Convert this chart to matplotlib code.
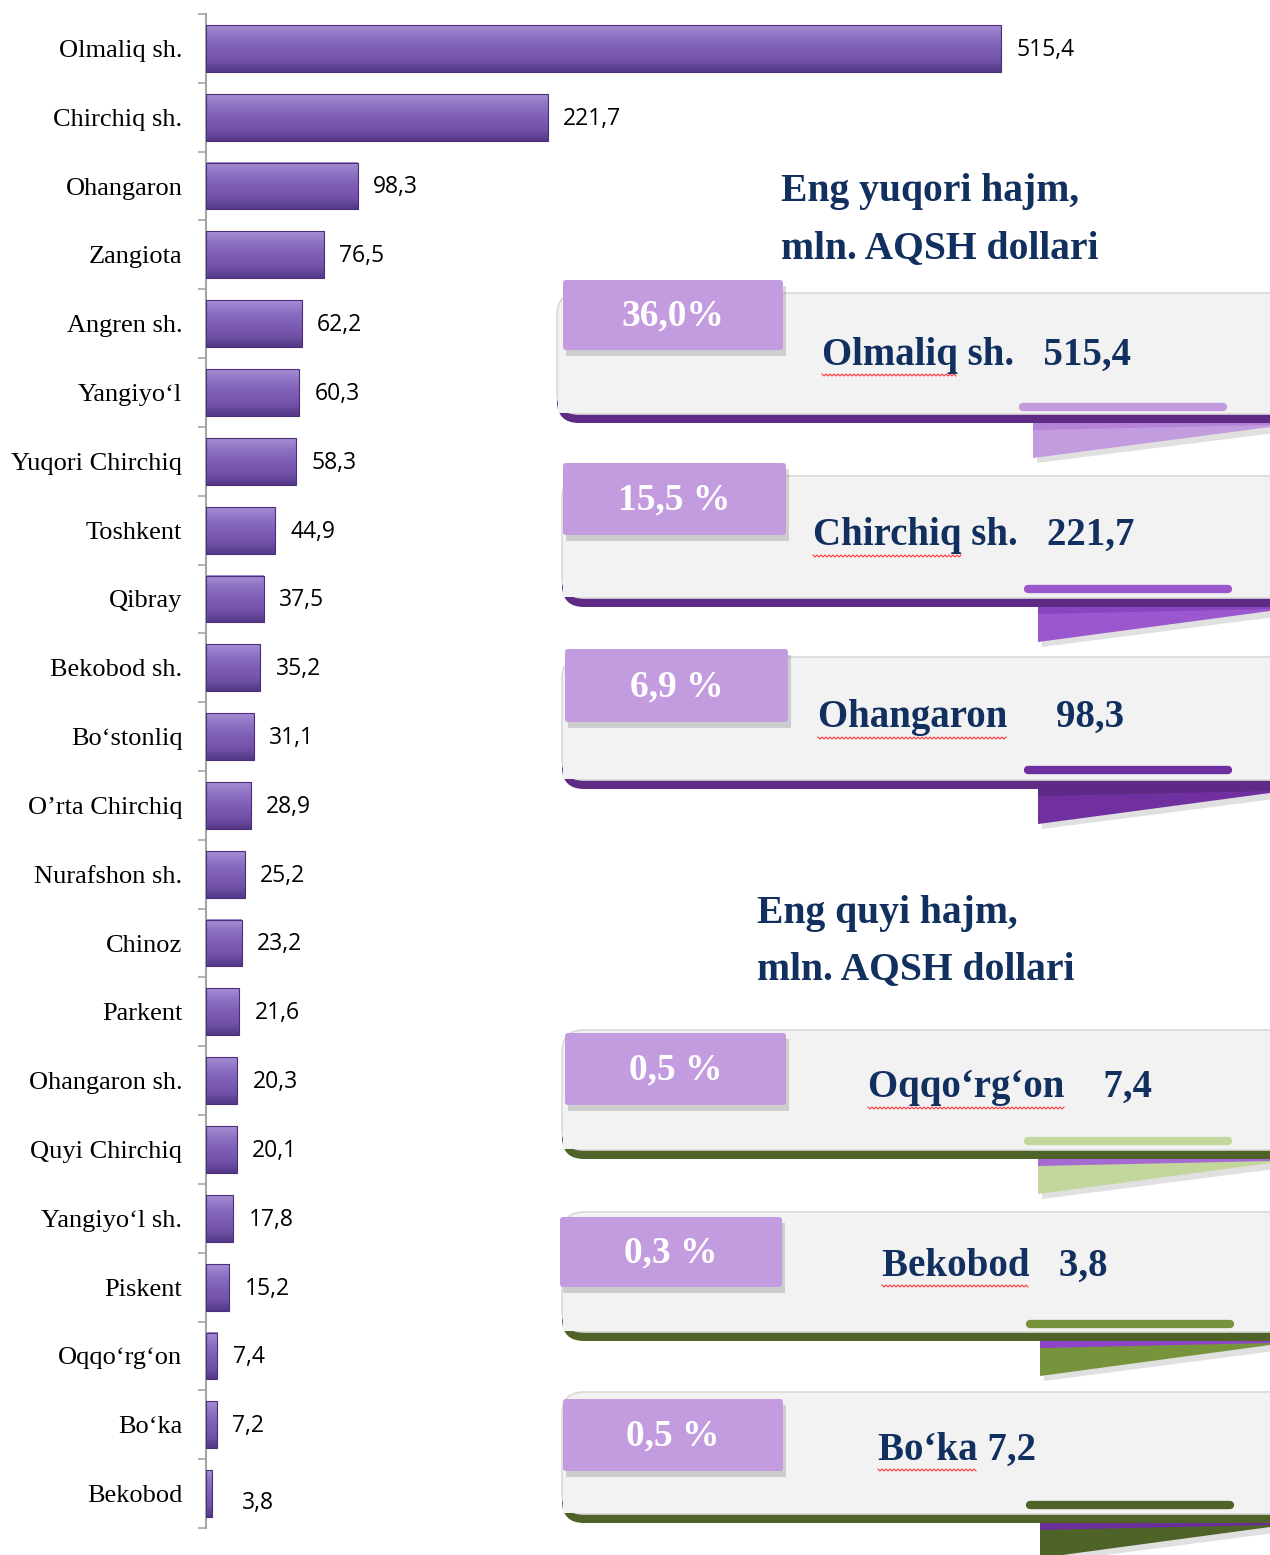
import matplotlib
matplotlib.use("Agg")
import matplotlib.pyplot as plt
import numpy as np
from matplotlib.patches import FancyBboxPatch, Rectangle, Polygon
from matplotlib.colors import LinearSegmentedColormap

# data
districts = ["Olmaliq sh.", "Chirchiq sh.", "Ohangaron", "Zangiota", "Angren sh.",
             "Yangiyo‘l", "Yuqori Chirchiq", "Toshkent", "Qibray", "Bekobod sh.",
             "Bo‘stonliq", "O’rta Chirchiq", "Nurafshon sh.", "Chinoz", "Parkent",
             "Ohangaron sh.", "Quyi Chirchiq", "Yangiyo‘l sh.", "Piskent",
             "Oqqo‘rg‘on", "Bo‘ka", "Bekobod"]
volumes = [515.4, 221.7, 98.3, 76.5, 62.2, 60.3, 58.3, 44.9, 37.5, 35.2, 31.1,
           28.9, 25.2, 23.2, 21.6, 20.3, 20.1, 17.8, 15.2, 7.4, 7.2, 3.8]

top_title = ["Eng yuqori hajm,", "mln. AQSH dollari"]
top_names = ["Olmaliq sh.", "Chirchiq sh.", "Ohangaron"]
top_vals = [515.4, 221.7, 98.3]
top_pct = ["36,0%", "15,5 %", "6,9 %"]

low_title = ["Eng quyi hajm,", "mln. AQSH dollari"]
low_names = ["Oqqo‘rg‘on", "Bekobod", "Bo‘ka"]
low_vals = [7.4, 3.8, 7.2]
low_pct = ["0,5 %", "0,3 %", "0,5 %"]


def fmt(v):
    return f"{v:.1f}".replace(".", ",")


W, H = 1270, 1555
fig = plt.figure(figsize=(W / 100, H / 100), dpi=100)
fig.patch.set_facecolor("white")

# ---- bar chart ----
ax = fig.add_axes([206 / W, (H - 1528) / H, 925 / W, 1514 / H])
n = len(districts)
ypos = np.arange(n)[::-1]
bar_h = 0.68
cmap = LinearSegmentedColormap.from_list("bar", ["#553888", "#7253a9", "#7d5eb5", "#8d70c2", "#a78dd6"])
grad = np.linspace(0, 1, 64).reshape(-1, 1)
for y, v in zip(ypos, volumes):
    ax.imshow(grad, cmap=cmap, origin="lower", aspect="auto",
              extent=(0, v, y - bar_h / 2, y + bar_h / 2), zorder=2)
    ax.add_patch(Rectangle((0, y - bar_h / 2), v, bar_h, fill=False,
                           ec="#4a2f78", lw=0.8, zorder=3))
    last = v == volumes[-1]
    ax.annotate(fmt(v), (v, y), xytext=(22 if last else 11, -7 if last else -1),
                textcoords="offset points", va="center", ha="left",
                fontsize=16.5, family="Open Sans", color="black")

ax.set_xlim(0, 925 / 1.5425)
ax.set_ylim(-0.5, n - 0.5)
ax.set_yticks(ypos)
ax.set_yticklabels(districts, family="Liberation Serif", fontsize=19)
ax.tick_params(axis="y", which="major", length=0, pad=17)
ax.set_yticks(np.arange(n + 1) - 0.5, minor=True)
ax.tick_params(axis="y", which="minor", length=6, width=1.2, color="#a6a6a6", direction="out")
ax.set_xticks([])
for s in ["top", "right", "bottom"]:
    ax.spines[s].set_visible(False)
ax.spines["left"].set_color("#a6a6a6")
ax.spines["left"].set_linewidth(1.5)
ax.set_facecolor("none")

# ---- cards overlay ----
ov = fig.add_axes([0, 0, 1, 1])
ov.set_xlim(0, W)
ov.set_ylim(H, 0)
ov.axis("off")
ov.set_facecolor("none")

navy = "#12305f"
purple_band = "#5e2a85"
olive_band = "#4f6228"

# layout: card x0, top, bottom, tag box, text x, text y, pill y, fold x0, gap
cards = [
    dict(x0=557, top=293, bot=414, tag=(563, 280, 783, 350), tx=822, ty=355, py=407,
         fx=1033, band=purple_band, acc="#c39bdf", strip="#b283d6", gap="   "),
    dict(x0=562, top=476, bot=598, tag=(563, 463, 786, 535), tx=813, ty=536, py=589,
         fx=1038, band=purple_band, acc="#9b57cd", strip="#8a44c0", gap="   "),
    dict(x0=562, top=657, bot=780, tag=(565, 649, 788, 722), tx=818, ty=718, py=770,
         fx=1038, band=purple_band, acc="#7030a0", strip="#5e2a85", gap="     "),
    dict(x0=562, top=1030, bot=1150, tag=(565, 1033, 786, 1105), tx=868, ty=1088, py=1141,
         fx=1038, band=olive_band, acc="#c3d69b", strip="#a66bd3", gap="    "),
    dict(x0=562, top=1212, bot=1332, tag=(560, 1217, 782, 1287), tx=882, ty=1266, py=1324,
         fx=1040, band=olive_band, acc="#77933c", strip="#8e44c8", gap="   "),
    dict(x0=562, top=1392, bot=1514, tag=(563, 1399, 783, 1471), tx=878, ty=1450, py=1505,
         fx=1040, band=olive_band, acc="#4f6228", strip="#6a2f9a", gap=" "),
]
names = top_names + low_names
vals = top_vals + low_vals
pcts = top_pct + low_pct

marks = []
for c, nm, v, p in zip(cards, names, vals, pcts):
    bb = c["bot"] + 9
    # fold shadow + fold
    ov.add_patch(Polygon([(c["fx"] + 4, bb + 4), (W + 5, bb + 4), (W + 5, bb + 10),
                          (c["fx"] + 4, bb + 40)], closed=True, fc="#000000", alpha=0.12,
                         lw=0, zorder=1))
    ov.add_patch(Polygon([(c["fx"], bb), (W, bb), (W, bb + 4), (c["fx"], bb + 35)],
                         closed=True, fc=c["acc"], lw=0, zorder=2))
    ov.add_patch(Polygon([(c["fx"], bb), (W, bb), (W, bb + 2), (c["fx"], bb + 7)],
                         closed=True, fc=c["strip"], lw=0, zorder=2))
    # band under card
    ov.add_patch(FancyBboxPatch((c["x0"], c["top"] + 20), W + 40 - c["x0"], bb - c["top"] - 20,
                                boxstyle="round,pad=0,rounding_size=22", fc=c["band"],
                                ec="none", zorder=3))
    # grey card
    ov.add_patch(FancyBboxPatch((c["x0"], c["top"]), W + 40 - c["x0"], c["bot"] - c["top"],
                                boxstyle="round,pad=0,rounding_size=22", fc="#f2f2f2",
                                ec="#d9d9d9", lw=1.2, zorder=4))
    ov.add_patch(FancyBboxPatch((c["x0"] + 1, c["top"] + 60), 30, c["bot"] - c["top"] - 61,
                                boxstyle="round,pad=0,rounding_size=1", fc="#f2f2f2",
                                ec="none", zorder=4))
    # tag
    x1, y1, x2, y2 = c["tag"]
    ov.add_patch(Rectangle((x1 + 3, y1 + 6), x2 - x1, y2 - y1, fc="#000000", alpha=0.15,
                           lw=0, zorder=5))
    ov.add_patch(FancyBboxPatch((x1, y1), x2 - x1, y2 - y1,
                                boxstyle="round,pad=0,rounding_size=3", fc="#c39bdf",
                                ec="none", zorder=6))
    ov.text((x1 + x2) / 2, (y1 + y2) / 2 + 1, p, ha="center", va="center", color="white",
            fontsize=27, fontweight="bold", family="Liberation Serif", zorder=7)
    # name + value
    ov.text(c["tx"], c["ty"], nm + c["gap"] + fmt(v), ha="left", va="center", color=navy,
            fontsize=28, fontweight="bold", family="Liberation Serif", zorder=7)
    marks.append((nm.split(" ")[0], c["tx"], c["ty"]))
    # pill
    ov.plot([c["fx"] - 10, c["fx"] + 190], [c["py"], c["py"]], color=c["acc"],
            lw=6, solid_capstyle="round", zorder=7)

# titles
for ttl, (tx, ty) in [(top_title, (781, 192)), (low_title, (757, 913))]:
    ov.text(tx, ty, ttl[0], ha="left", va="center", color=navy, fontsize=28.5,
            fontweight="bold", family="Liberation Serif")
    ov.text(tx, ty + 57, ttl[1], ha="left", va="center", color=navy, fontsize=28.5,
            fontweight="bold", family="Liberation Serif")

# spell-check squiggles under the place names
fig.canvas.draw()
r = fig.canvas.get_renderer()
inv = ov.transData.inverted()
for word, tx, ty in marks:
    t = ov.text(tx, ty, word, ha="left", va="center", fontsize=28, fontweight="bold",
                family="Liberation Serif")
    ext = t.get_window_extent(r)
    t.remove()
    (xa, _), (xb, _) = inv.transform([[ext.x0, ext.y0], [ext.x1, ext.y0]])
    xs = np.arange(xa, xb, 2.0)
    ys = ty + 19 + np.where(np.arange(len(xs)) % 2 == 0, 0, 2.0)
    ov.plot(xs, ys, color="#ff3b3b", lw=0.8, zorder=8)

fig.savefig("out.png", dpi=100)
